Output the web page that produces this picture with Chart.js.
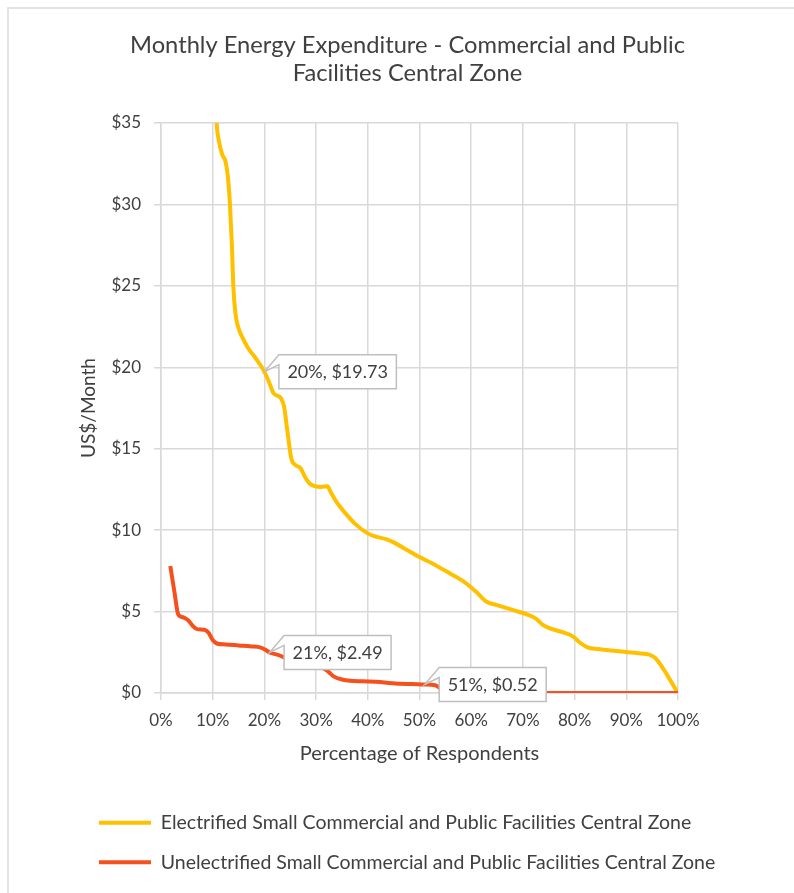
<!DOCTYPE html>
<html>
<head>
<meta charset="utf-8">
<title>Monthly Energy Expenditure - Commercial and Public Facilities Central Zone</title>
<script src="https://cdn.jsdelivr.net/npm/chart.js@4.4.1/dist/chart.umd.min.js"></script>
<style>
    html, body { margin: 0; padding: 0; background: #fff; overflow: hidden; }
    .frame { position: absolute; left: 7px; top: 7px; width: 840px; height: 920px; border: 2px solid #e3e3e3; }
    #chart { position: absolute; left: 0; top: 0; }
</style>
</head>
<body>
<div class="frame"></div>
<canvas id="chart" width="794" height="893"></canvas>
<script>
const titleLines = ['Monthly Energy Expenditure - Commercial and Public', 'Facilities Central Zone'];
const seriesNames = [
    'Electrified Small Commercial and Public Facilities Central Zone',
    'Unelectrified Small Commercial and Public Facilities Central Zone'
];

// share of respondents (%) against monthly spend (US$)
const electrifiedPct = [10.4, 10.8, 11.2, 11.8, 12.5, 12.9, 13.3, 13.7, 14.0, 14.4, 15.0, 15.8, 16.8, 18.2, 20, 21.0, 21.8, 23.2, 23.8, 24.4,
    25.2, 26.0, 27.0, 27.8, 28.8, 29.8, 31.0, 32.2, 32.8, 34.0, 35.5, 37.5, 40.0, 41.5, 43.5, 45.0, 47.5, 50.0, 52.5, 55.0,
    58.5, 61.0, 63.0, 65.0, 68.0, 71.0, 72.6, 73.8, 75.0, 77.5, 79.8, 81.0, 82.5, 84.5, 88.0, 92.0, 94.5, 95.6, 100];
const electrifiedCost = [37.5, 34.8, 33.9, 33.1, 32.6, 31.8, 30.2, 27.6, 24.9, 23.3, 22.4, 21.8, 21.2, 20.6, 19.73, 19.0, 18.4, 18.1, 17.6, 16.2,
    14.4, 14.0, 13.8, 13.3, 12.85, 12.7, 12.65, 12.7, 12.35, 11.7, 11.1, 10.4, 9.8, 9.6, 9.45, 9.25, 8.8, 8.35, 7.95, 7.5,
    6.85, 6.2, 5.6, 5.4, 5.1, 4.8, 4.55, 4.2, 4.0, 3.75, 3.45, 3.1, 2.8, 2.7, 2.58, 2.45, 2.35, 2.15, 0];

const unelectrifiedPct = [1.8, 2.6, 3.3, 3.8, 4.6, 5.3, 6.2, 7.0, 8.4, 9.2, 10.0, 10.8, 12.5, 15.0, 17.5, 19.3, 20.2, 21, 22.5, 23.7,
    25.0, 26.5, 28.5, 30.2, 31.5, 32.4, 33.4, 35.0, 36.6, 39.0, 42.4, 44.0, 46.3, 48.5, 51, 53.0, 55.5, 100];
const unelectrifiedCost = [7.8, 6.2, 4.85, 4.7, 4.6, 4.45, 4.1, 3.92, 3.88, 3.7, 3.25, 3.04, 2.98, 2.92, 2.86, 2.79, 2.65, 2.49, 2.35, 2.2,
    2.0, 1.75, 1.6, 1.57, 1.5, 1.3, 1.02, 0.83, 0.75, 0.72, 0.68, 0.61, 0.57, 0.55, 0.52, 0.48, 0, 0];

// points that get a value callout: [series, % of respondents]
const calloutPoints = [[0, 20], [1, 21], [1, 51]];

Chart.defaults.font.family = 'Lato';
Chart.defaults.color = '#404040';

const toPoints = (xs, ys) => xs.map((x, i) => ({ x: x, y: ys[i] }));

// two-line heading centred over the whole frame
const titlePlugin = {
    id: 'frameTitle',
    afterDraw(chart, args, opts) {
        const ctx = chart.ctx;
        ctx.save();
        ctx.font = opts.size + 'px Lato';
        ctx.fillStyle = opts.color;
        ctx.textAlign = 'center';
        ctx.textBaseline = 'middle';
        opts.lines.forEach((line, i) => ctx.fillText(line, opts.x, opts.y + i * opts.lineHeight));
        ctx.restore();
    }
};

// let the legend run past the plot's right edge instead of being clipped
const legendWidthPlugin = {
    id: 'legendWidth',
    afterLayout(chart) {
        const legend = chart.legend;
        legend.right = chart.width;
        legend.width = legend.right - legend.left;
    }
};

// boxed "x%, $y" labels with a small pointer to the point
const calloutPlugin = {
    id: 'callouts',
    afterDatasetsDraw(chart, args, opts) {
        const ctx = chart.ctx;
        ctx.save();
        ctx.font = opts.size + 'px Lato';
        opts.points.forEach(([series, pct]) => {
            const data = chart.data.datasets[series].data;
            const i = data.findIndex(d => d.x === pct);
            const pt = chart.getDatasetMeta(series).data[i];
            const text = `${data[i].x}%, $${data[i].y.toFixed(2)}`;
            const w = ctx.measureText(text).width + opts.padX * 2;
            const h = opts.height;
            const left = pt.x + opts.dx;
            const top = pt.y - h / 2;

            ctx.beginPath();
            ctx.moveTo(left, top);
            ctx.lineTo(left + w, top);
            ctx.lineTo(left + w, top + h);
            ctx.lineTo(left, top + h);
            ctx.lineTo(left, top + opts.wedge);
            ctx.lineTo(pt.x, pt.y);
            ctx.closePath();
            ctx.fillStyle = '#fff';
            ctx.fill();
            ctx.strokeStyle = opts.borderColor;
            ctx.lineWidth = opts.borderWidth;
            ctx.stroke();

            ctx.fillStyle = opts.color;
            ctx.textBaseline = 'middle';
            ctx.fillText(text, left + opts.padX, top + h / 2 + 1);
        });
        ctx.restore();
    }
};

new Chart(document.getElementById('chart'), {
    type: 'scatter',
    data: {
        datasets: [{
            label: seriesNames[0],
            data: toPoints(electrifiedPct, electrifiedCost),
            borderColor: '#FFC000',
            backgroundColor: '#FFC000',
            borderWidth: 4,
            showLine: true,
            pointRadius: 0,
            cubicInterpolationMode: 'monotone',
            order: 1
        }, {
            label: seriesNames[1],
            data: toPoints(unelectrifiedPct, unelectrifiedCost),
            borderColor: '#F4511E',
            backgroundColor: '#F4511E',
            borderWidth: 4,
            showLine: true,
            pointRadius: 0,
            cubicInterpolationMode: 'monotone',
            order: 0
        }]
    },
    options: {
        responsive: false,
        animation: false,
        devicePixelRatio: 1,
        layout: { padding: { left: 79, right: 116, top: 123, bottom: 11 } },
        scales: {
            x: {
                type: 'linear',
                min: 0,
                max: 100,
                ticks: { stepSize: 10, callback: v => v + '%', padding: 10, font: { size: 17 }, maxRotation: 0, autoSkip: false },
                grid: { color: '#d9d9d9', lineWidth: 1.5, tickLength: 7 },
                border: { color: '#d9d9d9', width: 1.5 },
                title: { display: true, text: 'Percentage of Respondents', font: { size: 20 }, padding: { top: 0, bottom: 27 } },
                afterFit(scale) {
                    scale.height = 100;
                    scale.paddingLeft = 0;
                    scale.paddingRight = 0;
                }
            },
            y: {
                min: 0,
                max: 35,
                ticks: { stepSize: 5, callback: v => '$' + v, padding: 13, font: { size: 17 } },
                grid: { color: '#d9d9d9', lineWidth: 1.5, tickLength: 7 },
                border: { color: '#d9d9d9', width: 1.5 },
                title: { display: true, text: 'US$/Month', font: { size: 19, lineHeight: 1 }, padding: 0 },
                afterFit(scale) {
                    scale.width = 82;
                    scale.paddingTop = 0;
                    scale.paddingBottom = 0;
                }
            }
        },
        plugins: {
            legend: {
                position: 'bottom',
                align: 'start',
                labels: {
                    usePointStyle: true,
                    pointStyle: 'line',
                    pointStyleWidth: 52,
                    padding: 20,
                    font: { size: 19.5 },
                    sort: (a, b) => a.datasetIndex - b.datasetIndex
                }
            },
            tooltip: { enabled: false },
            frameTitle: { lines: titleLines, x: 407.5, y: 45, lineHeight: 28, size: 23.7, color: '#404040' },
            callouts: {
                points: calloutPoints,
                size: 18,
                dx: 14.5,
                height: 34,
                padX: 8.5,
                wedge: 10,
                borderColor: '#bfbfbf',
                borderWidth: 1.5,
                color: '#404040'
            }
        }
    },
    plugins: [titlePlugin, legendWidthPlugin, calloutPlugin]
});
</script>
</body>
</html>
